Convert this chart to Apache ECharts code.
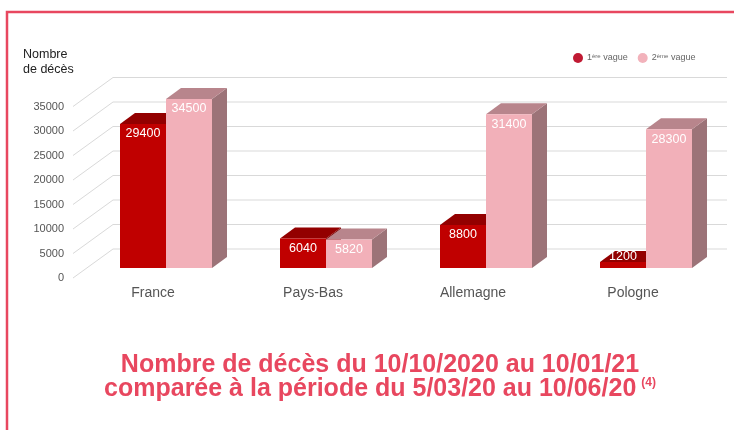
<!DOCTYPE html>
<html>
<head>
<meta charset="utf-8">
<title>Nombre de décès</title>
<script src="https://cdn.jsdelivr.net/npm/echarts@6.0.0/dist/echarts.min.js"></script>
<style>
  html, body { margin: 0; padding: 0; background: #fff; }
  #chart { width: 734px; height: 430px; }
</style>
</head>
<body>
<div id="chart"></div>
<script>
// données
var pays = ['France', 'Pays-Bas', 'Allemagne', 'Pologne'];
var vague1 = [29400, 6040, 8800, 1200];
var vague2 = [34500, 5820, 31400, 28300];
var graduations = [0, 5000, 10000, 15000, 20000, 25000, 30000, 35000];

var FONT = '"Liberation Sans", Arial, sans-serif';
var ROUGE = '#e8475f';
var MUR = [40, -29];      // décalage du mur du fond
var DECALAGE = [13, -10]; // face avant des barres / bord avant du sol
var PROF = [15, -11];     // profondeur des barres
var LARGEUR = 0.2875;     // largeur d'une barre / largeur d'une catégorie

function toPairs(arr) {
	return arr.map(function (v, i) { return [i, v]; });
}

// lignes du quadrillage (diagonale + ligne du mur)
function renderGrille(params, api) {
	var cs = params.coordSys;
	var y = api.coord([0, api.value(1)])[1];
	var x = cs.x;
	return {
		type: 'polyline',
		silent: true,
		shape: { points: [[x, y], [x + MUR[0], y + MUR[1]], [x + cs.width + 14, y + MUR[1]]] },
		style: { stroke: '#d9d9d9', lineWidth: 1, fill: null }
	};
}

// barres en 3D : face avant, dessus, côté
function renderBarre(cote, couleurs) {
	return function (params, api) {
		var cat = api.value(0), val = api.value(1);
		var base = api.coord([cat, 0]);
		var tete = api.coord([cat, val]);
		var w = api.size([1, 0])[0] * LARGEUR;
		var x0 = base[0] + DECALAGE[0] + (cote < 0 ? -w : 0);
		var x1 = x0 + w;
		var yb = base[1] + DECALAGE[1];
		var yt = tete[1] + DECALAGE[1];
		var dx = PROF[0], dy = PROF[1];
		var yLabel = Math.min(yt + 10, yb - 11);
		return {
			type: 'group',
			children: [
				{
					type: 'polygon',
					shape: { points: [[x1, yt], [x1, yb], [x1 + dx, yb + dy], [x1 + dx, yt + dy]] },
					style: { fill: couleurs[2] }
				},
				{
					type: 'polygon',
					shape: { points: [[x0, yt], [x1, yt], [x1 + dx, yt + dy], [x0 + dx, yt + dy]] },
					style: { fill: couleurs[1] }
				},
				{
					type: 'rect',
					shape: { x: x0, y: yt, width: w, height: yb - yt },
					style: { fill: couleurs[0] }
				},
				{
					type: 'text',
					x: (x0 + x1) / 2,
					y: yLabel,
					style: {
						text: String(val),
						fill: '#fff',
						font: '12.5px ' + FONT,
						align: 'center',
						verticalAlign: 'middle'
					}
				}
			]
		};
	};
}

var myChart = echarts.init(document.getElementById('chart'));
var option = {
	backgroundColor: '#fff',
	animation: false,
	title: {
		text: '{t|Nombre de décès du 10/10/2020 au 10/01/21}\n{t|comparée à la période du 5/03/20 au 10/06/20} {s|(4)}',
		left: 380,
		top: 353,
		textAlign: 'center',
		padding: 0,
		textStyle: {
			rich: {
				t: { fontSize: 25, fontWeight: 'bold', fontFamily: FONT, color: ROUGE, lineHeight: 24 },
				s: { fontSize: 12, fontWeight: 'bold', fontFamily: FONT, color: ROUGE, lineHeight: 14, verticalAlign: 'top' }
			}
		}
	},
	legend: {
		left: 568,
		top: 48,
		icon: 'circle',
		itemWidth: 10,
		itemHeight: 10,
		itemGap: 10,
		selectedMode: false,
		data: ['1ère vague', '2ème vague'],
		formatter: function (name) {
			return name.charAt(0) + '{s|' + name.slice(1, 4) + '}' + name.slice(4);
		},
		textStyle: {
			fontSize: 9,
			fontFamily: FONT,
			color: '#666',
			padding: [0, 0, 0, -1],
			rich: {
				s: { fontSize: 6, fontFamily: FONT, color: '#666', verticalAlign: 'top', padding: [0, 0, 3, 0] }
			}
		}
	},
	graphic: [
		{
			type: 'polyline',
			silent: true,
			shape: { points: [[7, 431], [7, 12], [736, 12]] },
			style: { stroke: ROUGE, lineWidth: 2.5, fill: null }
		},
		{
			type: 'text',
			left: 23,
			top: 47,
			style: {
				text: 'Nombre\nde décès',
				font: '12.5px ' + FONT,
				fill: '#222',
				lineHeight: 15
			}
		}
	],
	grid: {
		left: 73,
		top: 106.5,
		width: 640,
		height: 171.5,
		outerBoundsMode: 'none'
	},
	xAxis: {
		type: 'category',
		data: pays,
		axisLine: { show: false },
		axisTick: { show: false },
		axisLabel: { fontSize: 14, fontFamily: FONT, color: '#555', margin: 8 }
	},
	yAxis: {
		type: 'value',
		min: 0,
		max: 35000,
		interval: 5000,
		axisLine: { show: false },
		axisTick: { show: false },
		splitLine: { show: false },
		axisLabel: {
			fontSize: 11,
			fontFamily: FONT,
			color: '#555',
			margin: 9,
			formatter: function (v) { return String(v); }
		}
	},
	series: [
		{
			name: 'grille',
			type: 'custom',
			silent: true,
			z: 1,
			renderItem: renderGrille,
			data: graduations.map(function (v) { return [0, v]; })
		},
		{
			name: '1ère vague',
			type: 'custom',
			z: 2,
			itemStyle: { color: '#c01a33' },
			renderItem: renderBarre(-1, ['#c00000', '#930000', '#7a0000']),
			data: toPairs(vague1)
		},
		{
			name: '2ème vague',
			type: 'custom',
			z: 3,
			itemStyle: { color: '#f2b2bb' },
			renderItem: renderBarre(1, ['#f2b0b9', '#b8858c', '#9c7378']),
			data: toPairs(vague2)
		}
	]
};
myChart.setOption(option);//rendu
</script>
</body>
</html>
